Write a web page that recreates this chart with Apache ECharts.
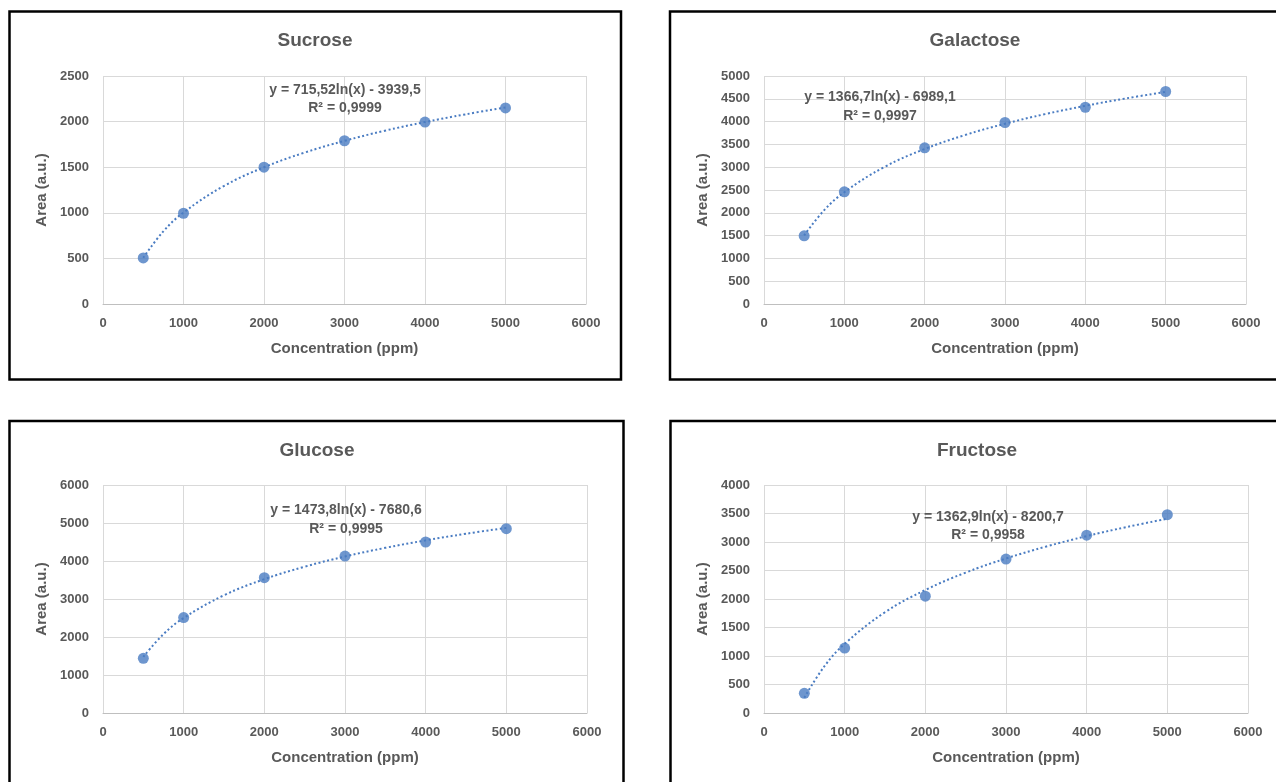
<!DOCTYPE html>
<html>
<head>
<meta charset="utf-8">
<script src="https://cdn.jsdelivr.net/npm/echarts@6/dist/echarts.min.js"></script>
<style>
html,body{margin:0;padding:0;background:#fff;}
#c{width:1276px;height:782px;}
</style>
</head>
<body>
<div id="c"></div>
<script>
// ---- data ----
const concentrations = [500, 1000, 2000, 3000, 4000, 5000];
const sucroseArea   = [505, 995, 1500, 1790, 1995, 2150];
const galactoseArea = [1495, 2460, 3425, 3980, 4315, 4660];
const glucoseArea   = [1440, 2510, 3560, 4130, 4500, 4850];
const fructoseArea  = [345, 1140, 2050, 2700, 3120, 3480];

// logarithmic trendline
const trendX         = [500, 750, 1000, 1500, 2000, 2500, 3000, 3500, 4000, 4500, 5000];
const sucroseTrend   = [507, 797, 1003, 1293, 1499, 1659, 1789, 1900, 1995, 2079, 2155];
const galactoseTrend = [1504, 2059, 2452, 3006, 3399, 3704, 3953, 4164, 4346, 4507, 4651];
const glucoseTrend   = [1479, 2076, 2500, 3098, 3522, 3850, 4119, 4346, 4543, 4717, 4872];
const fructoseTrend  = [269, 822, 1214, 1767, 2158, 2463, 2711, 2921, 3103, 3264, 3408];

const titles    = ['Sucrose', 'Galactose', 'Glucose', 'Fructose'];
const equations = ['y = 715,52ln(x) - 3939,5', 'y = 1366,7ln(x) - 6989,1', 'y = 1473,8ln(x) - 7680,6', 'y = 1362,9ln(x) - 8200,7'];
const rSquared  = ['R² = 0,9999', 'R² = 0,9997', 'R² = 0,9995', 'R² = 0,9958'];
const yMax      = [2500, 5000, 6000, 4000];
const yStep     = [500, 500, 1000, 500];
const xMax = 6000, xStep = 1000;
const xAxisName = 'Concentration (ppm)';
const yAxisName = 'Area (a.u.)';

// ---- layout ----
const FONT = "'Liberation Sans', Arial, sans-serif";
const TXT = '#595959';
const BLUE = '#4A7CC2';
const panels = [
  {grid:{left:103, top:76, width:483, height:228}, title:[315,41], eq:[345,90,108], box:[9.5,11.5,611.5,368]},
  {grid:{left:764, top:76, width:482, height:228}, title:[975,41], eq:[880,97,116], box:[670,11.5,700,368]},
  {grid:{left:103, top:485, width:484, height:228}, title:[317,451], eq:[346,510,529], box:[9.5,421,614,400]},
  {grid:{left:764, top:485, width:484, height:228}, title:[977,451], eq:[988,517,535], box:[670.5,421,700,400]}
];
const areas = [sucroseArea, galactoseArea, glucoseArea, fructoseArea];
const trends = [sucroseTrend, galactoseTrend, glucoseTrend, fructoseTrend];
const plain = v => String(v);

const grids = [], xAxes = [], yAxes = [], series = [], graphics = [];
panels.forEach((p, i) => {
  grids.push(Object.assign({containLabel:false}, p.grid));
  xAxes.push({
    type:'value', gridIndex:i, min:0, max:xMax, interval:xStep,
    name:xAxisName, nameLocation:'middle', nameGap:37,
    nameTextStyle:{color:TXT, fontFamily:FONT, fontWeight:'bold', fontSize:15},
    axisLine:{show:true, onZero:false, lineStyle:{color:'#BFBFBF', width:1}},
    axisTick:{show:false},
    axisLabel:{color:TXT, fontFamily:FONT, fontWeight:'bold', fontSize:13, margin:13, formatter:plain},
    splitLine:{show:true, lineStyle:{color:'#D9D9D9', width:1}}
  });
  yAxes.push({
    type:'value', gridIndex:i, min:0, max:yMax[i], interval:yStep[i],
    name:yAxisName, nameLocation:'middle', nameGap:54, nameRotate:90,
    nameTextStyle:{color:TXT, fontFamily:FONT, fontWeight:'bold', fontSize:15},
    axisLine:{show:false},
    axisTick:{show:false},
    axisLabel:{color:TXT, fontFamily:FONT, fontWeight:'bold', fontSize:13, margin:14, formatter:plain},
    splitLine:{show:true, lineStyle:{color:'#D9D9D9', width:1}}
  });
  series.push({
    type:'line', xAxisIndex:i, yAxisIndex:i, smooth:0.4, showSymbol:false, silent:true,
    data:trendX.map((x, k) => [x, trends[i][k]]),
    lineStyle:{color:BLUE, width:2, type:[2, 2.5]}, z:2, animation:false
  });
  series.push({
    type:'scatter', xAxisIndex:i, yAxisIndex:i, symbol:'circle', symbolSize:11,
    data:concentrations.map((x, k) => [x, areas[i][k]]),
    itemStyle:{color:BLUE}, z:3, animation:false
  });
  graphics.push({
    type:'rect', shape:{x:p.box[0], y:p.box[1], width:p.box[2], height:p.box[3]},
    style:{fill:'none', stroke:'#000', lineWidth:2.5}, z:10
  });
  graphics.push({
    type:'text', x:p.title[0], y:p.title[1],
    style:{text:titles[i], textAlign:'center', textVerticalAlign:'middle', fill:TXT,
           font:"bold 19px " + FONT}, z:10
  });
  graphics.push({
    type:'text', x:p.eq[0], y:p.eq[1],
    style:{text:equations[i], textAlign:'center', textVerticalAlign:'middle', fill:TXT,
           font:"bold 14px " + FONT}, z:10
  });
  graphics.push({
    type:'text', x:p.eq[0], y:p.eq[2],
    style:{text:rSquared[i], textAlign:'center', textVerticalAlign:'middle', fill:TXT,
           font:"bold 14px " + FONT}, z:10
  });
});

const chart = echarts.init(document.getElementById('c'), null, {renderer:'canvas'});
chart.setOption({
  animation:false,
  backgroundColor:'#fff',
  grid:grids, xAxis:xAxes, yAxis:yAxes, series:series,
  graphic:{elements:graphics}
});
</script>
</body>
</html>
